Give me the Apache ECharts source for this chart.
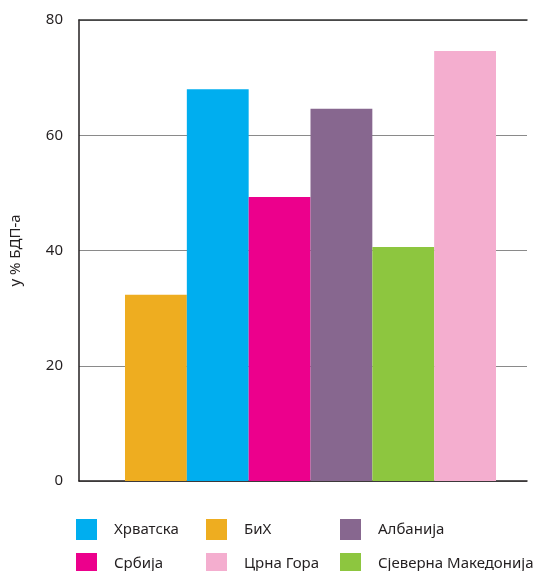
<!DOCTYPE html>
<html>
<head>
<meta charset="utf-8">
<script src="https://cdn.jsdelivr.net/npm/echarts@6/dist/echarts.min.js"></script>
<style>
  html, body { margin: 0; padding: 0; background: #fff; }
  #chart { width: 536px; height: 571px; }
</style>
</head>
<body>
<div id="chart"></div>
<script>
// podaci (u % BDP-a)
var zemlje = ['БиХ', 'Хрватска', 'Србија', 'Албанија', 'Сјеверна Македонија', 'Црна Гора'];
var vrijednosti = [32.3, 68.0, 49.3, 64.6, 40.6, 74.6];
var boje = ['#EEAD20', '#00AEEF', '#EC008C', '#87678F', '#8DC63F', '#F4AECF'];
var yTicks = [0, 20, 40, 60, 80];

// raspored legende: [naziv, left, top]
var legendaPoz = [
    ['Хрватска', 76, 519],
    ['БиХ', 206, 519],
    ['Албанија', 340, 519],
    ['Србија', 76, 553],
    ['Црна Гора', 206, 553],
    ['Сјеверна Македонија', 340, 553]
];

var font = 'Noto Sans';
var chart = echarts.init(document.getElementById('chart'));

var series = zemlje.map(function (z, i) {
    return {
        name: z,
        type: 'bar',
        xAxisIndex: 2,
        yAxisIndex: 1,
        barGap: 0,
        barCategoryGap: 0,
        itemStyle: { color: boje[i] },
        data: [vrijednosti[i]]
    };
});

var legends = legendaPoz.map(function (l) {
    return {
        data: [l[0]],
        left: l[1],
        top: l[2],
        padding: 0,
        icon: 'rect',
        itemWidth: 21,
        itemHeight: 21,
        selectedMode: false,
        textStyle: { fontFamily: font, fontSize: 15, color: '#231f20', padding: [0, 0, 0, 12] }
    };
});

var option = {
    animation: false,
    backgroundColor: '#fff',
    legend: legends,
    grid: [
        { left: 79, right: 9, top: 20, bottom: 90 },
        { left: 125, right: 40, top: 20, bottom: 90 }
    ],
    xAxis: [
        {
            gridIndex: 0, type: 'category', data: [''], position: 'bottom',
            axisLine: { lineStyle: { color: '#231f20', width: 1.5 } },
            axisTick: { show: false }, axisLabel: { show: false }
        },
        {
            gridIndex: 0, type: 'category', data: [''], position: 'top',
            axisLine: { lineStyle: { color: '#333', width: 1.5 } },
            axisTick: { show: false }, axisLabel: { show: false }
        },
        {
            gridIndex: 1, type: 'category', data: ['x'],
            show: false
        }
    ],
    yAxis: [
        {
            gridIndex: 0, type: 'value', min: 0, max: 80, interval: 20,
            name: 'у % БДП-а', nameLocation: 'middle', nameGap: 56,
            nameTextStyle: { fontFamily: font, fontSize: 15, color: '#231f20' },
            axisLine: { show: true, lineStyle: { color: '#231f20', width: 1.5 } },
            axisTick: { show: false },
            axisLabel: {
                margin: 16, fontFamily: font, fontSize: 15, color: '#231f20',
                formatter: function (v) { return yTicks.indexOf(v) >= 0 ? v : ''; }
            },
            splitLine: { lineStyle: { color: '#8a8a8a', width: 1 } }
        },
        {
            gridIndex: 1, type: 'value', min: 0, max: 80, show: false
        }
    ],
    series: series
};

chart.setOption(option);
</script>
</body>
</html>
